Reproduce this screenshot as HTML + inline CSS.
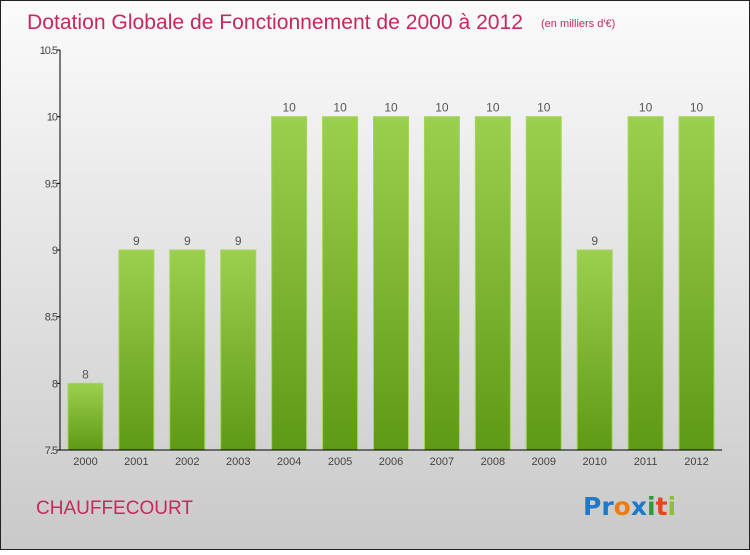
<!DOCTYPE html>
<html><head><meta charset="utf-8"><style>
html,body{margin:0;padding:0}
body{width:750px;height:550px;overflow:hidden;font-family:"Liberation Sans",sans-serif}
</style></head><body>
<svg id="chart" width="750" height="550" xmlns="http://www.w3.org/2000/svg">
<defs>
<linearGradient id="bg" x1="0" y1="0" x2="0" y2="1"><stop offset="0" stop-color="#fbfbfb"/><stop offset="1" stop-color="#c9c9c9"/></linearGradient>
<linearGradient id="bar" x1="0" y1="0" x2="0" y2="1"><stop offset="0" stop-color="#9bd04e"/><stop offset="1" stop-color="#5f9a14"/></linearGradient>
</defs>
<rect x="0.5" y="0.5" width="749" height="549" fill="url(#bg)" stroke="#222"/>
<text x="27" y="29" font-size="21" fill="#c8285a" textLength="496" lengthAdjust="spacingAndGlyphs">Dotation Globale de Fonctionnement de 2000 à 2012</text>
<text x="541" y="27" font-size="11" fill="#c8285a">(en milliers d'€)</text>
<text x="36" y="514" font-size="19" fill="#c8285a">CHAUFFECOURT</text>
<text x="583" y="515" font-size="25" font-weight="bold" font-family="'DejaVu Sans',sans-serif"><tspan fill="#1f78c8">Pr</tspan><tspan fill="#f07c10">o</tspan><tspan fill="#1f78c8">x</tspan><tspan fill="#2a9a3a">i</tspan><tspan fill="#e8461a">t</tspan><tspan fill="#8fc030">i</tspan></text>
<g id="plot"></g>
</svg>
<script>
const categories=["2000","2001","2002","2003","2004","2005","2006","2007","2008","2009","2010","2011","2012"];
const values=[8,9,9,9,10,10,10,10,10,10,9,10,10];
const labels=["8","9","9","9","10","10","10","10","10","10","9","10","10"];
const yTicks=[7.5,8,8.5,9,9.5,10,10.5];
const ns="http://www.w3.org/2000/svg";
const g=document.getElementById('plot');
const x0=60,x1=722,yb=450,yt=50,ymin=7.5,ymax=10.5;
const y=v=>yb-(v-ymin)/(ymax-ymin)*(yb-yt);
const band=(x1-x0)/categories.length;
const xc=i=>x0+band*(i+0.5);
function mk(t,a){const e=document.createElementNS(ns,t);for(const k in a)e.setAttribute(k,a[k]);g.appendChild(e);return e;}
categories.forEach((c,i)=>{
  const r=mk('rect',{x:xc(i)-17.5,y:y(values[i]),width:35,height:yb-y(values[i]),fill:'url(#bar)',stroke:'#a4d65a','stroke-width':1});
  
  
  const l=mk('text',{x:xc(i),y:y(values[i])-5,'text-anchor':'middle','font-size':12,fill:'#555'});
  l.textContent=labels[i];
  
  
  const t=mk('text',{x:xc(i),y:yb+15,'text-anchor':'middle','font-size':11,fill:'#444'});
  t.textContent=c;
  
  
});
yTicks.forEach(v=>{
  const tk=mk('line',{x1:x0-3,x2:x0,y1:y(v),y2:y(v),stroke:'#000'});
  
  
  const t=mk('text',{x:x0-3,y:y(v)+4,'text-anchor':'end','font-size':11,fill:'#444','letter-spacing':'-1'});
  t.textContent=String(v);
  
  
});
const ya=mk('line',{x1:x0,x2:x0,y1:yt,y2:yb,stroke:'#000','stroke-width':1});


const xa=mk('line',{x1:x0,x2:x1,y1:yb,y2:yb,stroke:'#000','stroke-width':1});


</script>
</body></html>
